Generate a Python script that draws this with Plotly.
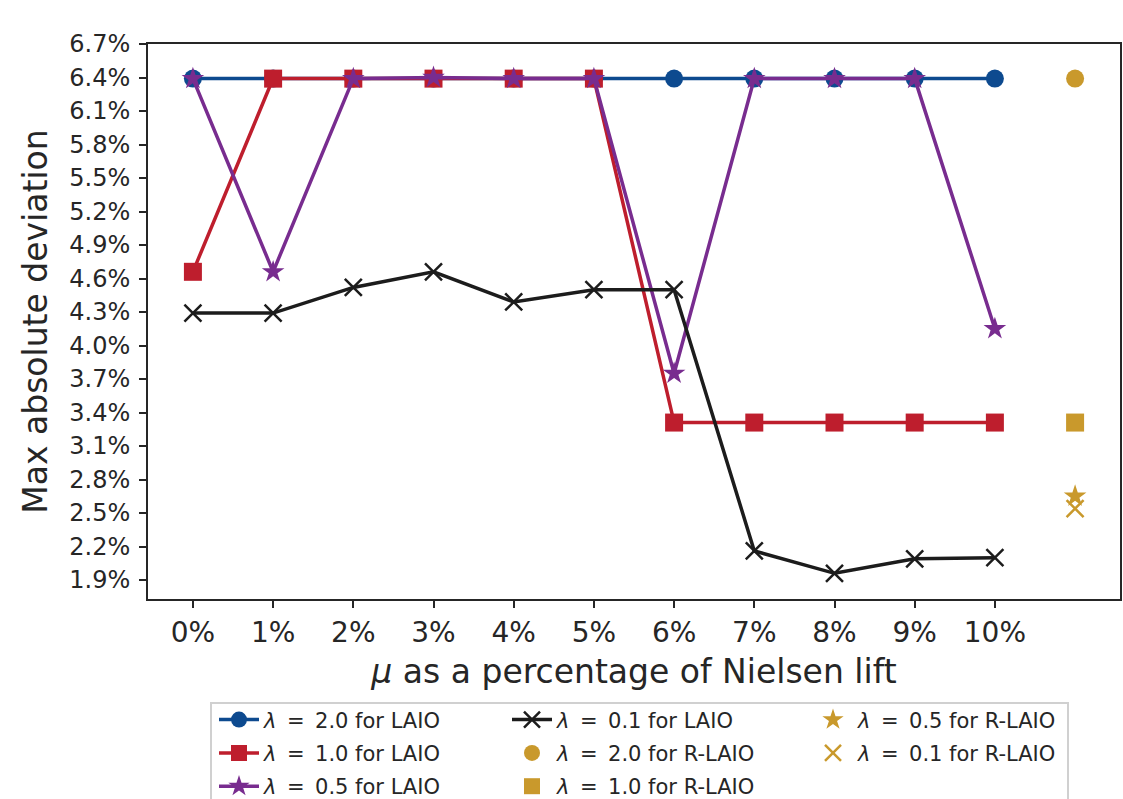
import plotly.graph_objects as go

x_vals = [0, 1, 2, 3, 4, 5, 6, 7, 8, 9, 10]
x_labels = ["0%", "1%", "2%", "3%", "4%", "5%", "6%", "7%", "8%", "9%", "10%"]
laio_20 = [6.39, 6.39, 6.39, 6.39, 6.39, 6.39, 6.39, 6.39, 6.39, 6.39, 6.39]
laio_10 = [4.66, 6.39, 6.39, 6.39, 6.39, 6.39, 3.31, 3.31, 3.31, 3.31, 3.31]
laio_05 = [6.39, 4.66, 6.39, 6.40, 6.39, 6.39, 3.75, 6.39, 6.39, 6.39, 4.15]
laio_01 = [4.29, 4.29, 4.52, 4.66, 4.39, 4.50, 4.50, 2.16, 1.96, 2.09, 2.10]
rlaio_x = [11]
rlaio_20 = [6.39]
rlaio_10 = [3.31]
rlaio_05 = [2.65]
rlaio_01 = [2.54]
y_ticks = [1.9, 2.2, 2.5, 2.8, 3.1, 3.4, 3.7, 4.0, 4.3, 4.6, 4.9, 5.2, 5.5, 5.8, 6.1, 6.4, 6.7]
y_labels = [f"{v:.1f}%" for v in y_ticks]

BLUE = "#0d4a8f"
RED = "#be1e2d"
PURPLE = "#782c8f"
BLACK = "#1c1c1c"
GOLD = "#c9992c"
TXT = "#262626"


def lab(lam, method):
    return f"<i>λ</i>\u2002=\u2002{lam} for {method}"


fig = go.Figure()


def line_trace(y, name, color, symbol, size, legend, group):
    return go.Scatter(x=x_vals, y=y, name=name, mode="lines+markers",
                      line=dict(color=color, width=3.5),
                      marker=dict(color=color, symbol=symbol, size=size,
                                  line=dict(width=0, color=color)),
                      legend=legend, legendgroup=group)


fig.add_trace(line_trace(laio_20, lab("2.0", "LAIO"), BLUE, "circle", 18, "legend", "a1"))
fig.add_trace(line_trace(laio_10, lab("1.0", "LAIO"), RED, "square", 18, "legend", "a2"))
fig.add_trace(line_trace(laio_05, lab("0.5", "LAIO"), PURPLE, "star", 17, "legend", "a3"))
fig.add_trace(go.Scatter(x=x_vals, y=laio_01, name=lab("0.1", "LAIO"), mode="lines+markers",
                         line=dict(color=BLACK, width=3.5),
                         marker=dict(color=BLACK, symbol="x-thin", size=17,
                                     line=dict(width=2.5, color=BLACK)),
                         legend="legend2", legendgroup="b1"))

fig.add_trace(go.Scatter(x=rlaio_x, y=rlaio_20, name=lab("2.0", "R-LAIO"), mode="markers",
                         marker=dict(color=GOLD, symbol="circle", size=18),
                         legend="legend2", legendgroup="b2"))
fig.add_trace(go.Scatter(x=rlaio_x, y=rlaio_10, name=lab("1.0", "R-LAIO"), mode="markers",
                         marker=dict(color=GOLD, symbol="square", size=18),
                         legend="legend2", legendgroup="b3"))
fig.add_trace(go.Scatter(x=rlaio_x, y=rlaio_05, name=lab("0.5", "R-LAIO"), mode="markers",
                         marker=dict(color=GOLD, symbol="star", size=17),
                         legend="legend3", legendgroup="c1"))
fig.add_trace(go.Scatter(x=rlaio_x, y=rlaio_01, name=lab("0.1", "R-LAIO"), mode="markers",
                         marker=dict(color=GOLD, symbol="x-thin", size=17,
                                     line=dict(width=2.5, color=GOLD)),
                         legend="legend3", legendgroup="c2"))

axis_common = dict(showline=True, linecolor=TXT, linewidth=1.8, mirror=True,
                   ticks="outside", ticklen=7, tickwidth=1.8, tickcolor=TXT,
                   showgrid=False, zeroline=False)

leg_common = dict(orientation="v", xanchor="left", yanchor="top", y=-0.181,
                  itemwidth=40, font=dict(size=21, color=TXT),
                  bgcolor="rgba(0,0,0,0)", borderwidth=0,
                  traceorder="grouped", tracegroupgap=3)

fig.update_layout(
    width=1123, height=799,
    paper_bgcolor="white", plot_bgcolor="white",
    margin=dict(l=148, r=3, t=44, b=200, autoexpand=False),
    font=dict(family="DejaVu Sans", color=TXT),
    xaxis=dict(range=[-0.56, 11.56], tickvals=x_vals, ticktext=x_labels,
               tickfont=dict(size=28),
               title=dict(text="<i>μ</i> as a percentage of Nielsen lift",
                          font=dict(size=33), standoff=12),
               automargin=False, **axis_common),
    yaxis=dict(range=[1.73, 6.7], tickvals=y_ticks, ticktext=y_labels,
               tickfont=dict(size=24), ticklabelstandoff=4,
               title=dict(text="Max absolute deviation", font=dict(size=33), standoff=12),
               automargin=False, **axis_common),
    legend=dict(x=(214 - 148) / 972, **leg_common),
    legend2=dict(x=(507 - 148) / 972, **leg_common),
    legend3=dict(x=(808 - 148) / 972, **leg_common),
    shapes=[dict(type="rect", xref="paper", yref="paper",
                 x0=(211 - 148) / 972, x1=(1068 - 148) / 972,
                 y0=-0.45, y1=(599 - 703) / 555,
                 line=dict(color="#d0d0d0", width=2), fillcolor="rgba(0,0,0,0)",
                 layer="below")],
    showlegend=True,
)

fig.write_html("out.html")
